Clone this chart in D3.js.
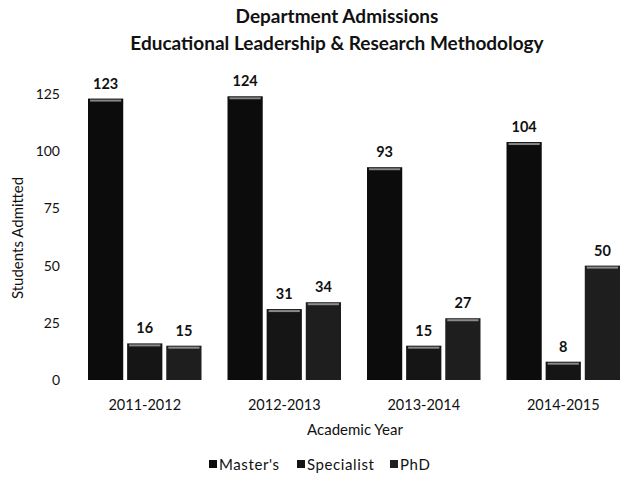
<!DOCTYPE html>
<html><head><meta charset="utf-8">
<script src="https://cdn.jsdelivr.net/npm/d3@7"></script>
<style>body{margin:0;background:#fff}svg{display:block}text{font-family:Lato,"Open Sans",sans-serif}</style>
</head><body><svg id="c" width="620" height="480"></svg>
<script>
const categories = ["2011-2012","2012-2013","2013-2014","2014-2015"];
const seriesNames = ["Master's","Specialist","PhD"];
const masters = [123,124,93,104];
const specialist = [16,31,15,8];
const phd = [15,34,27,50];
const yTicks = [0,25,50,75,100,125];
const values = [masters, specialist, phd];
const colors = ["#0c0c0c","#151515","#1e1e1e"];

const svg = d3.select("#c");
const x0 = d3.scaleBand().domain(categories).range([75,633]).paddingInner(0).paddingOuter(0);
const x1 = d3.scaleBand().domain(seriesNames).range([13, 139.5-13]).paddingInner(0.1);
const y = d3.scaleLinear().domain([0,125]).range([380,94]);

svg.append("text").attr("x",337).attr("y",23).attr("text-anchor","middle")
  .attr("font-weight","bold").attr("font-size",19).attr("fill","#111").text("Department Admissions");
svg.append("text").attr("x",337).attr("y",50).attr("text-anchor","middle")
  .attr("font-weight","bold").attr("font-size",19).attr("fill","#111").text("Educational Leadership & Research Methodology");

const yAxis = svg.append("g").attr("transform","translate(60,0)")
  .call(d3.axisLeft(y).tickValues(yTicks).tickSize(0).tickPadding(0));
yAxis.select(".domain").remove();
yAxis.selectAll("text").attr("font-size",14).attr("fill","#111").style("font-family","Lato,sans-serif");

const xAxis = svg.append("g").attr("transform","translate(0,392)")
  .call(d3.axisBottom(x0).tickSize(0).tickPadding(8));
xAxis.select(".domain").remove();
xAxis.selectAll("text").attr("font-size",14.5).attr("fill","#111").style("font-family","Lato,sans-serif");

svg.append("text").attr("transform","translate(23,238) rotate(-90)").attr("text-anchor","middle")
  .attr("font-size",15).attr("fill","#111").text("Students Admitted");
svg.append("text").attr("x",355).attr("y",435).attr("text-anchor","middle")
  .attr("font-size",15).attr("fill","#111").text("Academic Year");

const groups = svg.append("g").selectAll("g").data(categories).join("g")
  .attr("transform", d => `translate(${x0(d)},0)`);
seriesNames.forEach((s, si) => {
  groups.append("rect")
    .attr("x", x1(s)).attr("width", x1.bandwidth())
    .attr("y", (d,i) => y(values[si][i])).attr("height", (d,i) => y(0) - y(values[si][i]))
    .attr("fill", colors[si]);
  groups.append("rect")
    .attr("x", x1(s)+2).attr("width", x1.bandwidth()-4)
    .attr("y", (d,i) => y(values[si][i])+1).attr("height", 2)
    .attr("fill", "#bbb").attr("opacity",0.7);
  groups.append("text")
    .attr("x", x1(s) + x1.bandwidth()/2).attr("y", (d,i) => y(values[si][i]) - 10)
    .attr("text-anchor","middle").attr("font-weight","bold").attr("font-size",14.5).attr("fill","#111")
    .text((d,i) => values[si][i]);
});

const legendX = [209, 297, 390];
const lg = svg.append("g").selectAll("g").data(seriesNames).join("g")
  .attr("transform",(d,i)=>`translate(${legendX[i]},470)`);
lg.append("rect").attr("x",0).attr("y",-10).attr("width",8).attr("height",8).attr("fill",(d,i)=>colors[i]);
lg.append("text").attr("x",10).attr("y",0).attr("font-size",15).attr("letter-spacing",0.6).attr("fill","#111").text(d=>d);
</script></body></html>
